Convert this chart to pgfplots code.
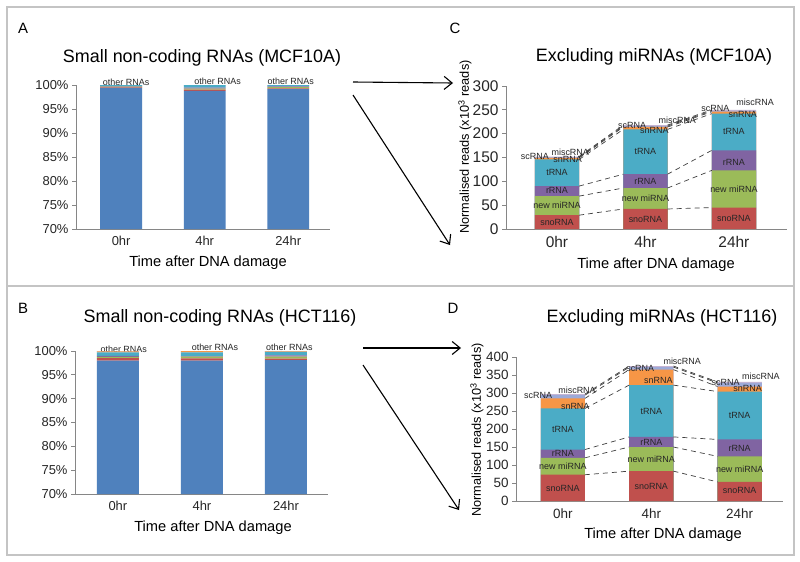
\documentclass[border=0pt]{standalone}
\usepackage{fontspec}
\setmainfont{Liberation Sans}
\usepackage{pgfplots}
\usepackage{pgfplotstable}
\pgfplotsset{compat=1.18}
\usetikzlibrary{arrows.meta}

\definecolor{cmi}{HTML}{4F81BD}
\definecolor{csno}{HTML}{C0504D}
\definecolor{cnew}{HTML}{9BBB59}
\definecolor{crr}{HTML}{8064A2}
\definecolor{ct}{HTML}{4BACC6}
\definecolor{csn}{HTML}{F79646}
\definecolor{csc}{HTML}{9DAAD8}
\definecolor{cmisc}{HTML}{C6B5D3}
\definecolor{axgray}{HTML}{868686}
\definecolor{framegray}{HTML}{C4C4C4}
\definecolor{lbl}{HTML}{262626}
\definecolor{milbl}{HTML}{1F2F4F}

% A, B: share of all small RNAs (%), segments stacked from the bottom
\pgfplotstableread{
cat miRNA sno new r t sn sc misc
0 99.40 0.12 0.16 0.08 0.21 0.02 0.005 0.005
1 98.80 0.23 0.24 0.17 0.51 0.03 0.01 0.01
2 99.15 0.15 0.27 0.14 0.25 0.02 0.01 0.01
}\tabA
\pgfplotstableread{
cat miRNA sno new r t sn sc misc
0 98.00 0.49 0.30 0.17 0.76 0.18 0.07 0.03
1 98.00 0.44 0.36 0.15 0.77 0.23 0.04 0.02
2 98.10 0.30 0.41 0.27 0.76 0.08 0.06 0.02
}\tabB
% C, D: normalised reads (x10^3), cumulative tops of each segment
\pgfplotstableread{
cat sno new r t sn sc misc
0 29 69 90 146 149 150.5 152
1 42 86 115 209 214 216 218
2 45 123 165 242 246 248 250
}\tabC
\pgfplotstableread{
cat sno new r t sn sc misc
0 73 120 143 257 285 294 297
1 83 150 178 322 365 372 375
2 53 124 171 304 318 328 331
}\tabD

\pgfplotsset{
  /pgf/number format/assume math mode=true,
  panel/.style={
    scale only axis, anchor=south west,
    axis x line*=bottom, axis y line*=left,
    axis line style={draw=axgray, line width=0.9bp},
    tick align=outside, major tick length=4bp,
    y tick style={draw=axgray, line width=0.9bp},
    x tick style={draw=none},
    xtick={0,1,2}, xticklabels={0hr,4hr,24hr},
    ticklabel style={text=black!85},
    clip mode=individual,
  },
  seg/.style={ybar, bar width=0.5, bar shift=0pt, draw=none, fill=#1},
  serline/.style={draw=black!75, line width=0.7bp, dash pattern=on 5bp off 4bp},
}
\tikzset{
  lab/.style={font=\fontsize{9}{10}\selectfont, text=lbl, inner sep=0pt},
  ttl/.style={font=\fontsize{18}{20}\selectfont},
  xl/.style={font=\fontsize{14.7}{16}\selectfont},
  yl/.style={font=\fontsize{12.8}{14}\selectfont, rotate=90},
  let/.style={font=\fontsize{15}{17}\selectfont},
  arr/.style={line width=1.1bp, -{Straight Barb[length=8bp,width=13bp]}},
}
\newcommand\sline[3]{%
  \addplot[serline] coordinates {(0.25,#1) (0.75,#2)};
  \addplot[serline] coordinates {(1.25,#2) (1.75,#3)};}

\begin{document}
\begin{tikzpicture}
\fill[white] (0,0) rectangle (800bp,-562bp);
\path[use as bounding box] (0,0) rectangle (800bp,-562bp);
\draw[framegray, line width=1.3bp] (7bp,-7bp) rectangle (794bp,-555bp);
\draw[framegray, line width=1.3bp] (7bp,-286bp) -- (794bp,-286bp);

% ---------- A ----------
\begin{axis}[panel, at={(76bp,-229bp)}, width=254bp, height=144bp,
  xmin=-0.54, xmax=2.5, ymin=70, ymax=100, ytick={70,75,...,100},
  yticklabel={\pgfmathprintnumber{\tick}\%},
  ybar stacked, bar width=0.5,
  ticklabel style={font=\fontsize{13}{15}\selectfont}]
\addplot[fill=cmi, draw=none] table[x=cat, y=miRNA] {\tabA};
\addplot[fill=csno, draw=none] table[x=cat, y=sno] {\tabA};
\addplot[fill=cnew, draw=none] table[x=cat, y=new] {\tabA};
\addplot[fill=crr, draw=none] table[x=cat, y=r] {\tabA};
\addplot[fill=ct, draw=none] table[x=cat, y=t] {\tabA};
\addplot[fill=csn, draw=none] table[x=cat, y=sn] {\tabA};
\addplot[fill=csc, draw=none] table[x=cat, y=sc] {\tabA};
\addplot[fill=cmisc, draw=none] table[x=cat, y=misc] {\tabA};
\node[lab, text=milbl] at (axis cs:0,84.6) {miRNA};
\node[lab, text=milbl] at (axis cs:1,84.6) {miRNA};
\node[lab, text=milbl] at (axis cs:2,84.6) {miRNA};
\node[lab] at (axis cs:0.06,100.5) {other RNAs};
\node[lab] at (axis cs:1.155,100.8) {other RNAs};
\node[lab] at (axis cs:2.03,100.8) {other RNAs};
\end{axis}

% ---------- B ----------
\begin{axis}[panel, at={(75bp,-494bp)}, width=253bp, height=143bp,
  xmin=-0.51, xmax=2.5, ymin=70, ymax=100, ytick={70,75,...,100},
  yticklabel={\pgfmathprintnumber{\tick}\%},
  ybar stacked, bar width=0.5,
  ticklabel style={font=\fontsize{13}{15}\selectfont}]
\addplot[fill=cmi, draw=none] table[x=cat, y=miRNA] {\tabB};
\addplot[fill=csno, draw=none] table[x=cat, y=sno] {\tabB};
\addplot[fill=cnew, draw=none] table[x=cat, y=new] {\tabB};
\addplot[fill=crr, draw=none] table[x=cat, y=r] {\tabB};
\addplot[fill=ct, draw=none] table[x=cat, y=t] {\tabB};
\addplot[fill=csn, draw=none] table[x=cat, y=sn] {\tabB};
\addplot[fill=csc, draw=none] table[x=cat, y=sc] {\tabB};
\addplot[fill=cmisc, draw=none] table[x=cat, y=misc] {\tabB};
\node[lab, text=milbl] at (axis cs:0,83.8) {miRNA};
\node[lab, text=milbl] at (axis cs:1,83.8) {miRNA};
\node[lab, text=milbl] at (axis cs:2,83.8) {miRNA};
\node[lab] at (axis cs:0.07,100.3) {other RNAs};
\node[lab] at (axis cs:1.155,100.8) {other RNAs};
\node[lab] at (axis cs:2.04,100.8) {other RNAs};
\end{axis}

% ---------- C ----------
\begin{axis}[panel, at={(506bp,-229bp)}, width=281bp, height=143bp,
  xmin=-0.576, xmax=2.6, ymin=0, ymax=300, ytick={0,50,...,300},
  ticklabel style={font=\fontsize{15.5}{17}\selectfont}]
\addplot[seg=cmisc] table[x=cat, y=misc] {\tabC};
\addplot[seg=csc] table[x=cat, y=sc] {\tabC};
\addplot[seg=csn] table[x=cat, y=sn] {\tabC};
\addplot[seg=ct] table[x=cat, y=t] {\tabC};
\addplot[seg=crr] table[x=cat, y=r] {\tabC};
\addplot[seg=cnew] table[x=cat, y=new] {\tabC};
\addplot[seg=csno] table[x=cat, y=sno] {\tabC};
\sline{29}{42}{45}
\sline{69}{86}{123}
\sline{90}{115}{165}
\sline{146}{209}{242}
\sline{149}{214}{246}
\sline{150.5}{216}{248}
\sline{152}{218}{250}
\node[lab] at (axis cs:0,14.5) {snoRNA};
\node[lab] at (axis cs:0,49) {new miRNA};
\node[lab] at (axis cs:0,80) {rRNA};
\node[lab] at (axis cs:0,118) {tRNA};
\node[lab] at (axis cs:-0.25,153) {scRNA};
\node[lab] at (axis cs:0.15,161) {miscRNA};
\node[lab] at (axis cs:0.12,145) {snRNA};
\node[lab] at (axis cs:1,21) {snoRNA};
\node[lab] at (axis cs:1,64) {new miRNA};
\node[lab] at (axis cs:1,100) {rRNA};
\node[lab] at (axis cs:1,162) {tRNA};
\node[lab] at (axis cs:0.85,217) {scRNA};
\node[lab] at (axis cs:1.1,206) {snRNA};
\node[lab] at (axis cs:1.36,229) {miscRNA};
\node[lab] at (axis cs:2,22) {snoRNA};
\node[lab] at (axis cs:2,84) {new miRNA};
\node[lab] at (axis cs:2,140) {rRNA};
\node[lab] at (axis cs:2,204) {tRNA};
\node[lab] at (axis cs:1.79,253) {scRNA};
\node[lab] at (axis cs:2.1,241) {snRNA};
\node[lab] at (axis cs:2.24,266) {miscRNA};
\end{axis}

% ---------- D ----------
\begin{axis}[panel, at={(516bp,-501bp)}, width=267bp, height=144bp,
  xmin=-0.53, xmax=2.49, ymin=0, ymax=400, ytick={0,50,...,400},
  ticklabel style={font=\fontsize{13.5}{15}\selectfont}]
\addplot[seg=cmisc] table[x=cat, y=misc] {\tabD};
\addplot[seg=csc] table[x=cat, y=sc] {\tabD};
\addplot[seg=csn] table[x=cat, y=sn] {\tabD};
\addplot[seg=ct] table[x=cat, y=t] {\tabD};
\addplot[seg=crr] table[x=cat, y=r] {\tabD};
\addplot[seg=cnew] table[x=cat, y=new] {\tabD};
\addplot[seg=csno] table[x=cat, y=sno] {\tabD};
\sline{73}{83}{53}
\sline{120}{150}{124}
\sline{143}{178}{171}
\sline{257}{322}{304}
\sline{285}{365}{318}
\sline{294}{372}{328}
\sline{297}{375}{331}
\node[lab] at (axis cs:0,36) {snoRNA};
\node[lab] at (axis cs:0,96) {new miRNA};
\node[lab] at (axis cs:0,131) {rRNA};
\node[lab] at (axis cs:0,200) {tRNA};
\node[lab] at (axis cs:-0.28,292) {scRNA};
\node[lab] at (axis cs:0.16,308) {miscRNA};
\node[lab] at (axis cs:0.14,264) {snRNA};
\node[lab] at (axis cs:1,41) {snoRNA};
\node[lab] at (axis cs:1,117) {new miRNA};
\node[lab] at (axis cs:1,163) {rRNA};
\node[lab] at (axis cs:1,248) {tRNA};
\node[lab] at (axis cs:0.875,369) {scRNA};
\node[lab] at (axis cs:1.08,336) {snRNA};
\node[lab] at (axis cs:1.35,389) {miscRNA};
\node[lab] at (axis cs:2,29) {snoRNA};
\node[lab] at (axis cs:2,88) {new miRNA};
\node[lab] at (axis cs:2,147) {rRNA};
\node[lab] at (axis cs:2,237) {tRNA};
\node[lab] at (axis cs:1.84,328) {scRNA};
\node[lab] at (axis cs:2.09,314) {snRNA};
\node[lab] at (axis cs:2.24,347) {miscRNA};
\end{axis}

% titles, axis titles, panel letters
\node[let] at (23bp,-28bp) {A};
\node[let] at (23bp,-308bp) {B};
\node[let] at (455bp,-28bp) {C};
\node[let] at (453bp,-308bp) {D};
\node[ttl] at (202bp,-58bp) {Small non-coding RNAs (MCF10A)};
\node[ttl] at (220bp,-318bp) {Small non-coding RNAs (HCT116)};
\node[ttl] at (654bp,-57bp) {Excluding miRNAs (MCF10A)};
\node[ttl] at (662bp,-318bp) {Excluding miRNAs (HCT116)};
\node[xl] at (208bp,-263bp) {Time after DNA damage};
\node[xl] at (213bp,-528bp) {Time after DNA damage};
\node[xl] at (656bp,-265bp) {Time after DNA damage};
\node[xl] at (663bp,-535bp) {Time after DNA damage};
\node[yl] at (465bp,-147bp) {Normalised reads (x10\textsuperscript{3} reads)};
\node[yl] at (477bp,-430bp) {Normalised reads (x10\textsuperscript{3} reads)};

% arrows from A/B to C/D
\draw[arr] (353bp,-82bp) -- (453bp,-83bp);
\draw[arr] (353bp,-95bp) -- (450bp,-245bp);
\draw[arr] (363bp,-348bp) -- (461bp,-348bp);
\draw[arr] (363bp,-365bp) -- (459bp,-510bp);
\end{tikzpicture}
\end{document}
